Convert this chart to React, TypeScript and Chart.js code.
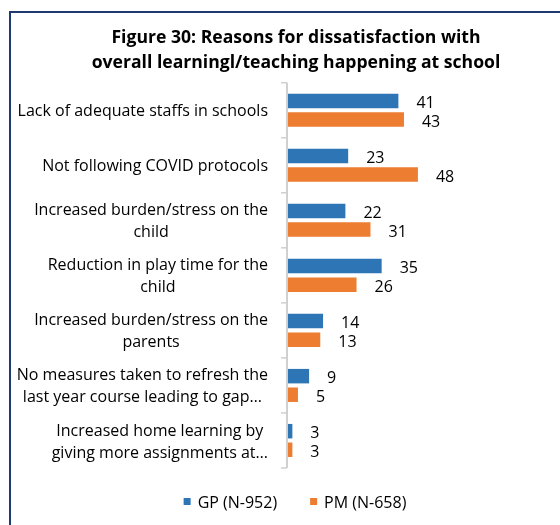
import { useEffect, useRef } from "react";
import { Chart, registerables } from "chart.js";

Chart.register(...registerables);

// Category labels, one entry per wrapped line
const categories: string[][] = [
  ["Lack of adequate staffs in schools"],
  ["Not following COVID protocols"],
  ["Increased burden/stress on the", "child"],
  ["Reduction in play time for the", "child"],
  ["Increased burden/stress on the", "parents"],
  ["No measures taken to refresh the", "last year course leading to gap…"],
  ["Increased home learning by", "giving more assignments at…"],
];
const gpValues = [41, 23, 22, 35, 14, 9, 3];
const pmValues = [43, 48, 31, 26, 13, 5, 3];
const seriesNames = ["GP (N-952)", "PM (N-658)"];
const seriesColors = ["#2E75B6", "#ED7D31"];
const titleLines = [
  "Figure 30: Reasons for dissatisfaction with",
  "overall learningl/teaching happening at school",
];

const FONT = "'Open Sans', 'Noto Sans', sans-serif";
const TEXT = "#000000";
const AXIS = "#D0D0D0";
const FRAME = "#1F3A73";
const CENTER_X = 295;
const LABEL_SIZE = 16;
// Open Sans sits a little high with a "middle" baseline
const TEXT_NUDGE = 1.5;

const decorPlugin = {
  id: "decor",
  beforeDraw(chart: any) {
    const { ctx, width, height } = chart;
    ctx.save();
    ctx.fillStyle = "#ffffff";
    ctx.fillRect(0, 0, width, height);

    // frame (top and left edges)
    ctx.strokeStyle = FRAME;
    ctx.lineWidth = 2;
    ctx.beginPath();
    ctx.moveTo(10, height);
    ctx.lineTo(10, 12);
    ctx.lineTo(width, 12);
    ctx.stroke();

    // title
    ctx.fillStyle = TEXT;
    ctx.font = `bold 17.6px ${FONT}`;
    ctx.textAlign = "center";
    ctx.textBaseline = "middle";
    titleLines.forEach((t, i) => ctx.fillText(t, CENTER_X + 1, 38 + i * 25));

    // legend
    ctx.font = `${LABEL_SIZE}px ${FONT}`;
    const box = 7;
    const gap = 7;
    const itemGap = 33;
    const widths = seriesNames.map((n) => ctx.measureText(n).width);
    const total = widths.reduce((a, w) => a + box + gap + w, 0) + itemGap * (seriesNames.length - 1);
    let x = CENTER_X - total / 2;
    const ly = 501.5;
    ctx.textAlign = "left";
    seriesNames.forEach((n, i) => {
      ctx.fillStyle = seriesColors[i];
      ctx.fillRect(x, ly - box / 2, box, box);
      x += box + gap;
      ctx.fillStyle = TEXT;
      ctx.fillText(n, x, ly + TEXT_NUDGE);
      x += widths[i] + itemGap;
    });
    ctx.restore();
  },
  afterDatasetsDraw(chart: any) {
    const { ctx, chartArea } = chart;
    const yScale = chart.scales.y;
    ctx.save();

    // vertical category axis with boundary ticks
    const axisX = chartArea.left + 3;
    ctx.strokeStyle = AXIS;
    ctx.lineWidth = 2;
    ctx.beginPath();
    ctx.moveTo(axisX, chartArea.top);
    ctx.lineTo(axisX, chartArea.bottom);
    ctx.stroke();
    ctx.lineWidth = 1.5;
    const n = categories.length;
    for (let i = 0; i <= n; i++) {
      let y: number;
      if (i === 0) y = chartArea.top;
      else if (i === n) y = chartArea.bottom;
      else y = (yScale.getPixelForValue(i - 1) + yScale.getPixelForValue(i)) / 2;
      ctx.beginPath();
      ctx.moveTo(axisX - 6, y);
      ctx.lineTo(axisX, y);
      ctx.stroke();
    }

    // category labels: lines centred on each other, block right-aligned
    ctx.fillStyle = TEXT;
    ctx.font = `${LABEL_SIZE}px ${FONT}`;
    ctx.textAlign = "center";
    ctx.textBaseline = "middle";
    const rightEdge = axisX - 19;
    const lineH = 22;
    categories.forEach((lines, i) => {
      const cy = yScale.getPixelForValue(i) + TEXT_NUDGE;
      const w = Math.max(...lines.map((l) => ctx.measureText(l).width));
      const cx = rightEdge - w / 2;
      lines.forEach((l, j) => {
        ctx.fillText(l, cx, cy + (j - (lines.length - 1) / 2) * lineH);
      });
    });

    // value labels at bar ends
    ctx.textAlign = "left";
    chart.data.datasets.forEach((ds: any, di: number) => {
      const meta = chart.getDatasetMeta(di);
      meta.data.forEach((el: any, i: number) => {
        ctx.fillText(String(ds.data[i]), el.x + 18, el.y + 1 + TEXT_NUDGE);
      });
    });
    ctx.restore();
  },
};

export default function App() {
  const canvasRef = useRef<HTMLCanvasElement | null>(null);

  useEffect(() => {
    const canvas = canvasRef.current;
    if (!canvas) return;
    const chart = new Chart(canvas, {
      type: "bar",
      data: {
        labels: categories.map((c) => c.join(" ")),
        datasets: [
          {
            label: seriesNames[0],
            data: gpValues,
            backgroundColor: seriesColors[0],
            categoryPercentage: 0.675,
            barPercentage: 0.78,
            clip: { left: -3, top: false, right: false, bottom: false } as any,
          },
          {
            label: seriesNames[1],
            data: pmValues,
            backgroundColor: seriesColors[1],
            categoryPercentage: 0.675,
            barPercentage: 0.78,
            clip: { left: -3, top: false, right: false, bottom: false } as any,
          },
        ],
      },
      options: {
        indexAxis: "y",
        responsive: false,
        animation: false,
        devicePixelRatio: 1,
        layout: { padding: { top: 82.7, bottom: 57, left: 0, right: 108.6 } },
        plugins: {
          legend: { display: false },
          title: { display: false },
          tooltip: { enabled: false },
        },
        scales: {
          x: {
            display: false,
            min: 0,
            max: 60,
          },
          y: {
            display: true,
            grid: { display: false },
            border: { display: false },
            ticks: { display: false },
            afterFit: (scale: any) => {
              scale.width = 284;
            },
          },
        },
      },
      plugins: [decorPlugin],
    });
    return () => chart.destroy();
  }, []);

  return (
    <div style={{ position: "fixed", left: 0, top: 0, width: 560, height: 525, background: "#fff" }}>
      <canvas ref={canvasRef} width={560} height={525} style={{ display: "block" }} />
    </div>
  );
}
